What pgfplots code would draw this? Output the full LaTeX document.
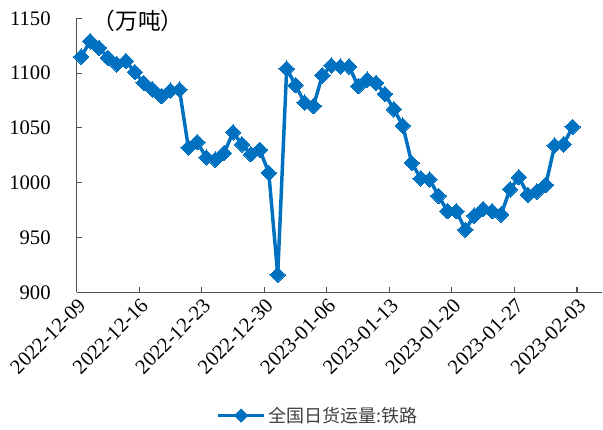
\documentclass[border=0pt]{standalone}
\usepackage{pgfplots}
\pgfplotsset{compat=1.18}
\usepackage{fontspec}
\setmainfont{Liberation Serif}
\newfontfamily\cjk{Noto Sans CJK SC}
\definecolor{serblue}{RGB}{0,112,192}
\definecolor{axgray}{RGB}{80,80,80}

\begin{document}
\begin{tikzpicture}[x=0.75pt,y=0.75pt]
\useasboundingbox (-76.7,-136.7) rectangle (526.3,292.3);
\begin{axis}[
    at={(0,0)}, anchor=south west,
    scale only axis,
    width=394pt, height=205.5pt,
    xmin=-0.5, xmax=58.3,
    ymin=900, ymax=1150,
    xtick={-0.5,6.5,13.5,20.5,27.5,34.5,41.5,48.5,55.5},
    xticklabels={2022-12-09,2022-12-16,2022-12-23,2022-12-30,2023-01-06,2023-01-13,2023-01-20,2023-01-27,2023-02-03},
    ytick={900,950,...,1150},
    axis x line*=bottom, axis y line*=left,
    axis line style={axgray, line width=1pt},
    tick align=inside, major tick length=3.75pt,
    tick style={axgray, line width=0.8pt},
    /pgf/number format/assume math mode=true,
    /pgf/number format/1000 sep={},
    yticklabel style={font=\fontsize{15.5}{18}\selectfont, xshift=-16pt},
    xticklabel style={font=\fontsize{15.5}{18}\selectfont, rotate=45, anchor=east, xshift=1pt, yshift=-8pt},
    clip=false,
    legend style={at={(axis description cs:0.46,-0.45)}, anchor=center, draw=none,
      font=\cjk\fontsize{13.5}{16}\selectfont, text=black!75},
    legend image code/.code={
      \draw[serblue, line width=2.6pt] (0cm,0cm) -- (1.2cm,0cm);
      \fill[serblue] (0.6cm,0cm) +(0,3.5pt) -- +(3.5pt,0) -- +(0,-3.5pt) -- +(-3.5pt,0) -- cycle;
    },
]
\addplot[serblue, line width=2.6pt, mark=square*, mark size=4.1pt,
  mark options={rotate=45, solid, fill=serblue, draw=serblue, line width=0pt}]
  table[x=i, y=v] {
i v
0 1115
1 1129
2 1123
3 1114
4 1108
5 1111
6 1101
7 1091
8 1085
9 1079
10 1084
11 1085
12 1032
13 1037
14 1023
15 1021
16 1027
17 1046
18 1035
19 1026
20 1030
21 1009
22 916
23 1104
24 1089
25 1073
26 1070
27 1098
28 1107
29 1106
30 1106
31 1088
32 1094
33 1091
34 1081
35 1067
36 1052
37 1018
38 1004
39 1003
40 988
41 974
42 974
43 957
44 970
45 976
46 974
47 971
48 994
49 1005
50 989
51 992
52 998
53 1034
54 1035
55 1051
};
\addlegendentry{全国日货运量:铁路}
\node[font=\cjk\fontsize{17}{20}\selectfont, anchor=center] at (axis description cs:0.117,0.99) {（万吨）};
\end{axis}
\end{tikzpicture}
\end{document}
